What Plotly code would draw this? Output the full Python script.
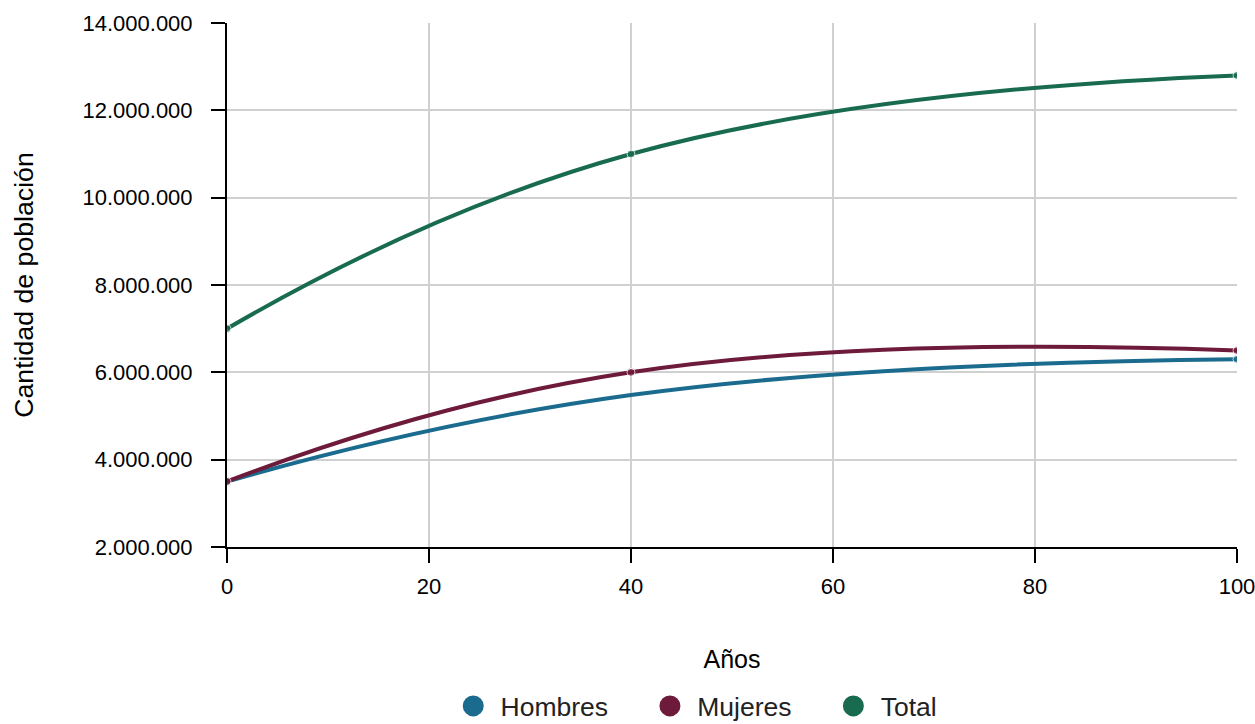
import plotly.graph_objects as go

years = [0, 40, 100]
hombres = [3500000, 5480000, 6300000]
mujeres = [3500000, 6000000, 6500000]
total = [7000000, 11000000, 12800000]

series = [
    ("Hombres", hombres, "#1b6b8f", [8, 0, 8]),
    ("Mujeres", mujeres, "#6e1a3b", [8, 8, 8]),
    ("Total", total, "#186b4f", [8, 8, 8]),
]

FONT = "Liberation Sans, Arial, sans-serif"
NB = "\u00a0"

fig = go.Figure()
for name, vals, color, msize in series:
    fig.add_trace(go.Scatter(
        x=years, y=vals, name=name, mode="lines+markers",
        line=dict(color=color, width=4, shape="spline", smoothing=1.3),
        marker=dict(color=color, size=msize),
        showlegend=False, hoverinfo="x+y+name",
    ))
for name, vals, color, msize in series:
    fig.add_trace(go.Scatter(
        x=[None], y=[None], name=NB + name + NB * 5, mode="markers",
        marker=dict(color=color, size=16, symbol="circle", line=dict(color=color, width=5)),
        showlegend=True,
    ))

fig.update_layout(
    width=1255, height=724,
    margin=dict(l=227, r=18, t=23, b=177, autoexpand=False),
    paper_bgcolor="white", plot_bgcolor="white",
    separators=",.",
    font=dict(family=FONT, color="#222222"),
    legend=dict(
        orientation="h", x=0.224, xanchor="left", y=-0.258, yanchor="top",
        font=dict(size=26.5, color="#222222"), itemsizing="trace",
        traceorder="normal",
    ),
)
fig.update_xaxes(
    range=[0, 100], tickvals=[0, 20, 40, 60, 80, 100],
    showgrid=True, gridcolor="#d0d0d0", gridwidth=2,
    showline=True, linecolor="#000000", linewidth=2,
    ticks="outside", ticklen=14, tickwidth=2, tickcolor="#000000",
    ticklabelstandoff=5, ticklabeloverflow="allow",
    tickfont=dict(size=22, color="#000000"),
    title=dict(text="Años", font=dict(size=25, color="#000000"), standoff=52),
    zeroline=False,
)
fig.update_yaxes(
    range=[2000000, 14000000], tickvals=[2000000, 4000000, 6000000, 8000000, 10000000, 12000000, 14000000],
    tickformat=",d",
    showgrid=True, gridcolor="#d0d0d0", gridwidth=2,
    showline=True, linecolor="#000000", linewidth=2,
    ticks="outside", ticklen=14, tickwidth=2, tickcolor="#000000",
    ticklabelstandoff=14, ticklabeloverflow="allow",
    tickfont=dict(size=22, color="#000000"),
    title=dict(text="Cantidad de población", font=dict(size=26.7, color="#000000"), standoff=41),
    zeroline=False,
)

fig.write_html("out.html", config={"displayModeBar": False},
               post_script="document.body.style.margin='0';")
